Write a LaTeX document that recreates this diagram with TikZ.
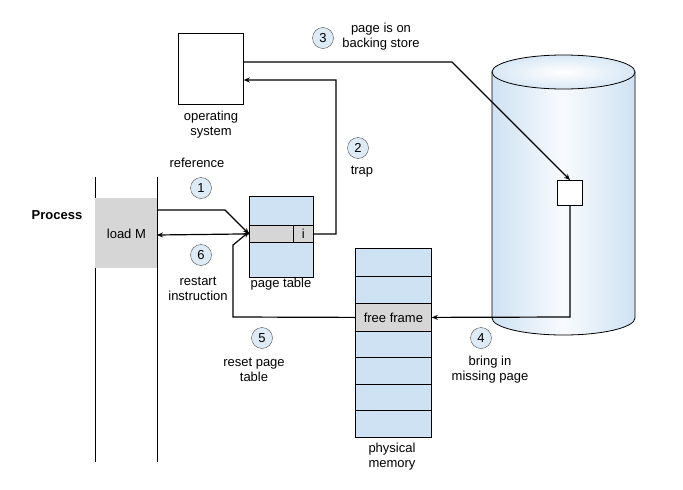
\documentclass[tikz,border=0pt]{standalone}
\usepackage{fontspec}
\setmainfont{Liberation Sans}
\usetikzlibrary{arrows.meta}
\definecolor{lb}{RGB}{207,226,243}
\definecolor{gr}{RGB}{214,214,214}
\begin{document}
\begin{tikzpicture}[x=1pt,y=-1pt,font=\fontsize{13}{15}\selectfont,
  box/.style={draw,line width=0.8pt,inner sep=0pt},
  arr/.style={line width=1.2pt,-{Stealth[length=6pt,width=5pt]}},
  num/.style={circle,draw=black!70,fill=lb!70,minimum size=21pt,inner sep=0pt},
  lbl/.style={align=center,inner sep=0pt}]
\useasboundingbox (0,0) rectangle (683,490);
% process
\draw[line width=0.7pt] (95,177) -- (95,462) (157,177) -- (157,462);
\node[box,fill=gr,minimum width=62pt,minimum height=70pt,draw=none,anchor=north west] (load) at (95,198) {load M};
\node[font=\fontsize{13}{15}\selectfont\bfseries] (proc) at (57,215) {Process};
% os
\node[box,fill=white,minimum width=65pt,minimum height=71pt,anchor=north west] (os) at (178,33) {};
\node[lbl] (osl) at (211,125) {operating\\system};
% page table
\node[box,fill=lb,minimum width=64pt,minimum height=81pt,anchor=north west] (pt) at (249,196) {};
\node[box,fill=gr,minimum width=64pt,minimum height=17pt,anchor=north west] (row) at (249,225) {};
\node[box,fill=gr,minimum width=20pt,minimum height=17pt,anchor=north west] (icell) at (293,225) {i};
\node[lbl] (ptl) at (281,284) {page table};
% physical memory
\node[box,fill=lb,minimum width=76pt,minimum height=189pt,anchor=north west] (pm) at (355,248) {};
\foreach \y in {276,357,384,410} \draw[line width=0.8pt] (355,\y) -- (431,\y);
\node[box,fill=gr,minimum width=76pt,minimum height=28pt,anchor=north west] (ff) at (355,303) {free frame};
\node[lbl] (pml) at (392,457) {physical\\memory};
% cylinder
\shade[left color=lb,right color=lb,middle color=white!85!lb,draw=black,line width=0.8pt]
  (492,72) -- (492,318) arc[start angle=180,end angle=360,x radius=71.5pt,y radius=17pt] -- (635,72) -- cycle;
\shade[inner color=white,outer color=lb!80,draw=black,line width=0.8pt] (563.5,72) ellipse[x radius=71.5pt,y radius=17pt];
\node[box,fill=white,minimum width=25pt,minimum height=25pt,line width=1pt] (sq) at (570,193) {};
% arrows
\coordinate (a1) at (225,210);
\draw[arr] (157,210) -- (a1) -- (row.west);
\draw[arr] (row.west) -- (157,235);
\draw[arr] (icell.east) -- (336,234) -- (336,80) -- (os.east |- 0,80);
\draw[arr] (os.east |- 0,62) -- (452,62) -- (sq.north);
\draw[arr] (sq.south) -- (570,317) -- (ff.east);
\draw[arr] (ff.west) -- (233,317) -- (233,245) -- ([yshift=2pt]row.west);
% numbers
\node[num] (n1) at (201,188) {1};
\node[num] (n2) at (358,148) {2};
\node[num] (n3) at (323,38) {3};
\node[num] (n4) at (481,338) {4};
\node[num] (n5) at (262,338) {5};
\node[num] (n6) at (201,255) {6};
\node[lbl] (l1) at (197,163) {reference};
\node[lbl] (l2) at (362,172) {trap};
\node[lbl] (l3) at (381,37) {page is on\\backing store};
\node[lbl] (l4) at (490,370) {bring in\\missing page};
\node[lbl] (l5) at (254,370) {reset page\\table};
\node[lbl] (l6) at (198,289) {restart\\instruction};
\end{tikzpicture}
\end{document}
